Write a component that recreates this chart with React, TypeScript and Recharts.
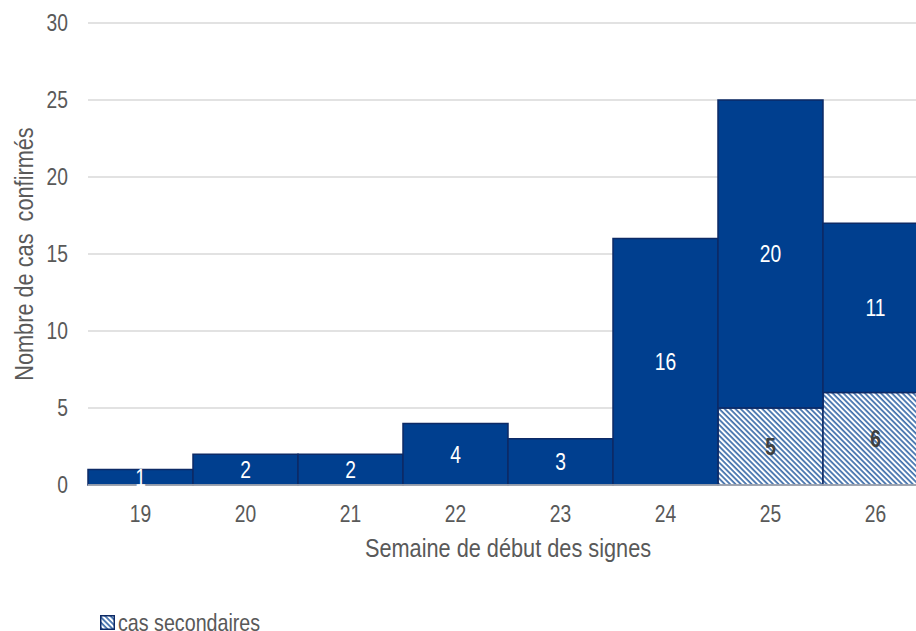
import { Bar, BarChart, CartesianGrid, LabelList, XAxis, YAxis, Label } from 'recharts'

const weeks = ['19', '20', '21', '22', '23', '24', '25', '26']
const primaryCases = [1, 2, 2, 4, 3, 16, 20, 11]
const secondaryCases = [0, 0, 0, 0, 0, 0, 5, 6]
const yTicks = [0, 5, 10, 15, 20, 25, 30]

const rows = weeks.map((week, i) => ({
  week,
  primaires: primaryCases[i],
  secondaires: secondaryCases[i],
}))

// no narrow face installed, so Liberation Sans is squeezed horizontally
const FONT = "'Liberation Sans', Arial, sans-serif"
const SQUEEZE = 0.82
const NAVY = '#003f8f'
const EDGE = '#0d2a66'
const GREY = '#595959'

type NarrowTextProps = {
  x: number
  y: number
  text: string | number
  anchor?: 'start' | 'middle' | 'end'
  dy?: string
  fill?: string
  size?: number
  weight?: string
  angle?: number
}

function NarrowText({ x, y, text, anchor = 'middle', dy = '0.355em', fill = GREY, size = 23.5, weight = 'normal', angle = 0 }: NarrowTextProps) {
  return (
    <text
      transform={`translate(${x},${y}) rotate(${angle}) scale(${SQUEEZE},1)`}
      textAnchor={anchor}
      dy={dy}
      fill={fill}
      fontSize={size}
      fontWeight={weight}
      fontFamily={FONT}
      style={{ whiteSpace: 'pre' }}
    >
      {text}
    </text>
  )
}

function HatchPattern({ id }: { id: string }) {
  return (
    <pattern
      id={id}
      patternUnits='userSpaceOnUse'
      width={3.8}
      height={3.8}
      patternTransform='rotate(45)'
    >
      <rect width={3.8} height={3.8} fill='#ffffff' />
      <line x1={0} y1={0.9} x2={3.8} y2={0.9} stroke={NAVY} strokeWidth={1.3} />
    </pattern>
  )
}

const barLabel = (fill: string, weight: string) => (props: any) => {
  const box = props.viewBox ?? props
  const value = props.value
  if (!value) return null
  return (
    <NarrowText
      x={box.x + box.width / 2}
      y={box.y + box.height / 2}
      text={value}
      fill={fill}
      weight={weight}
    />
  )
}

export default function App() {
  return (
    <div
      style={{
        position: 'absolute',
        left: 0,
        top: 0,
        width: 916,
        height: 631,
        overflow: 'hidden',
        background: '#ffffff',
        fontFamily: FONT,
      }}
    >
      <BarChart
        width={940}
        height={631}
        data={rows}
        barCategoryGap={0}
        margin={{ top: 23, right: 12, bottom: 56, left: 10 }}
      >
        <defs>
          <HatchPattern id='hatch' />
        </defs>
        <CartesianGrid vertical={false} stroke='#d9d9d9' strokeWidth={1.5} />
        <XAxis
          dataKey='week'
          height={90}
          tickLine={false}
          axisLine={{ stroke: '#bfbfbf', strokeWidth: 1.5 }}
          tickMargin={14}
          tick={(p: any) => (
            <NarrowText x={p.x} y={p.y} text={p.payload.value} anchor='middle' dy='0.71em' />
          )}
        >
          <Label
            content={(p: any) => {
              const vb = p.viewBox
              return (
                <NarrowText
                  x={vb.x + vb.width / 2}
                  y={vb.y + 53}
                  text='Semaine de début des signes'
                  dy='0.71em'
                  size={26.5}
                />
              )
            }}
          />
        </XAxis>
        <YAxis
          width={78}
          domain={[0, 30]}
          ticks={yTicks}
          interval={0}
          tickLine={false}
          axisLine={false}
          tickMargin={14}
          tick={(p: any) => (
            <NarrowText x={p.x} y={p.y} text={p.payload.value} anchor='end' />
          )}
        >
          <Label
            content={(p: any) => {
              const vb = p.viewBox
              return (
                <NarrowText
                  x={vb.x + 14}
                  y={vb.y + vb.height / 2}
                  text='Nombre de cas  confirmés'
                  angle={-90}
                  size={26.5}
                />
              )
            }}
          />
        </YAxis>
        <Bar
          dataKey='secondaires'
          stackId='cas'
          fill='url(#hatch)'
          stroke={EDGE}
          strokeWidth={1.5}
          isAnimationActive={false}
        >
          <LabelList dataKey='secondaires' content={barLabel('#404040', 'bold')} />
        </Bar>
        <Bar
          dataKey='primaires'
          stackId='cas'
          fill={NAVY}
          stroke={EDGE}
          strokeWidth={1.5}
          isAnimationActive={false}
        >
          <LabelList dataKey='primaires' content={barLabel('#ffffff', 'normal')} />
        </Bar>
      </BarChart>
      <div
        style={{
          position: 'absolute',
          left: 100,
          top: 606,
          display: 'flex',
          alignItems: 'center',
          whiteSpace: 'nowrap',
        }}
      >
        <svg width={15} height={15} style={{ marginRight: 3 }}>
          <defs>
            <HatchPattern id='hatch-legend' />
          </defs>
          <rect x={0.75} y={0.75} width={13.5} height={13.5} fill='url(#hatch-legend)' stroke={EDGE} strokeWidth={1.5} />
        </svg>
        <svg width={230} height={32} overflow='visible'>
          <NarrowText x={0} y={16} text='cas secondaires' anchor='start' size={24} />
        </svg>
      </div>
    </div>
  )
}
